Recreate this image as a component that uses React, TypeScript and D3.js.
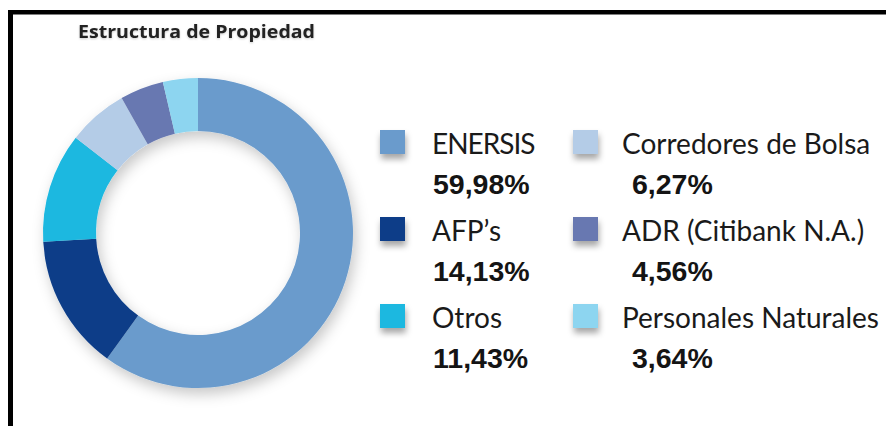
import React from "react";
import * as d3 from "d3";

const categories = [
  "ENERSIS",
  "AFP’s",
  "Otros",
  "Corredores de Bolsa",
  "ADR (Citibank N.A.)",
  "Personales Naturales",
];
const values = [59.98, 14.13, 11.43, 6.27, 4.56, 3.64];
const colors = ["#6a9bcc", "#0c3e88", "#1bb8e0", "#b4cce7", "#6878b1", "#8dd5f0"];
const title = "Estructura de Propiedad";

const W = 886;
const H = 426;

const locale = d3.formatLocale({ decimal: ",", thousands: ".", grouping: [3], currency: ["", ""] });
const fmt = locale.format(".2f");

export default function App() {
  const cx = 198;
  const cy = 233;
  const pie = d3.pie<number>().sort(null).startAngle(0).endAngle(2 * Math.PI);
  const arcs = pie(values);
  const arc = d3.arc<d3.PieArcDatum<number>>().innerRadius(102).outerRadius(155);

  const colX = [380, 573];
  const labelX = [432, 622];
  const valueX = [433, 632];
  const rowY = d3.scaleLinear().domain([0, 2]).range([154, 328]);

  return (
    <svg
      width={W}
      height={H}
      style={{ position: "absolute", left: 0, top: 0, background: "#fff" }}
    >
      <defs>
        <filter id="ringShadow" x="-20%" y="-20%" width="140%" height="140%">
          <feDropShadow dx="3" dy="6" stdDeviation="7" floodColor="#000" floodOpacity="0.22" />
        </filter>
        <filter id="swShadow" x="-40%" y="-40%" width="180%" height="200%">
          <feDropShadow dx="1" dy="5" stdDeviation="3" floodColor="#000" floodOpacity="0.35" />
        </filter>
        <filter id="txtShadow" x="-5%" y="-30%" width="110%" height="160%">
          <feDropShadow dx="0" dy="1" stdDeviation="1" floodColor="#000" floodOpacity="0.2" />
        </filter>
      </defs>
      <rect x={0} y={0} width={W} height={H} fill="#fff" />
      <rect x={8} y={10} width={W - 8} height={4.5} fill="#000" />
      <rect x={8} y={10} width={5} height={H - 10} fill="#000" />

      <text
        x={78}
        y={38}
        fontFamily="'Open Sans', sans-serif"
        fontWeight={700}
        fontSize={17.5}
        textLength={237}
        lengthAdjust="spacingAndGlyphs"
        fill="#222"
        filter="url(#txtShadow)"
      >
        {title}
      </text>

      <g transform={`translate(${cx},${cy})`} filter="url(#ringShadow)">
        {arcs.map((a, i) => (
          <path key={i} d={arc(a) || ""} fill={colors[i]} />
        ))}
      </g>

      {categories.map((c, i) => {
        const col = Math.floor(i / 3);
        const row = i % 3;
        const by = rowY(row);
        return (
          <g key={c}>
            <rect
              x={colX[col]}
              y={by - 24}
              width={25}
              height={24}
              fill={colors[i]}
              filter="url(#swShadow)"
            />
            <text
              x={labelX[col]}
              y={by}
              fontFamily="Lato, sans-serif"
              fontSize={28}
              letterSpacing={i === 0 ? -1 : 0}
              fill="#1a1a1a"
            >
              {c}
            </text>
            <text
              x={valueX[col]}
              y={by + 40}
              fontFamily="'Liberation Sans', Arial, sans-serif"
              fontWeight={700}
              fontSize={28.5}
              fill="#141414"
            >
              {fmt(values[i]) + "%"}
            </text>
          </g>
        );
      })}
    </svg>
  );
}
